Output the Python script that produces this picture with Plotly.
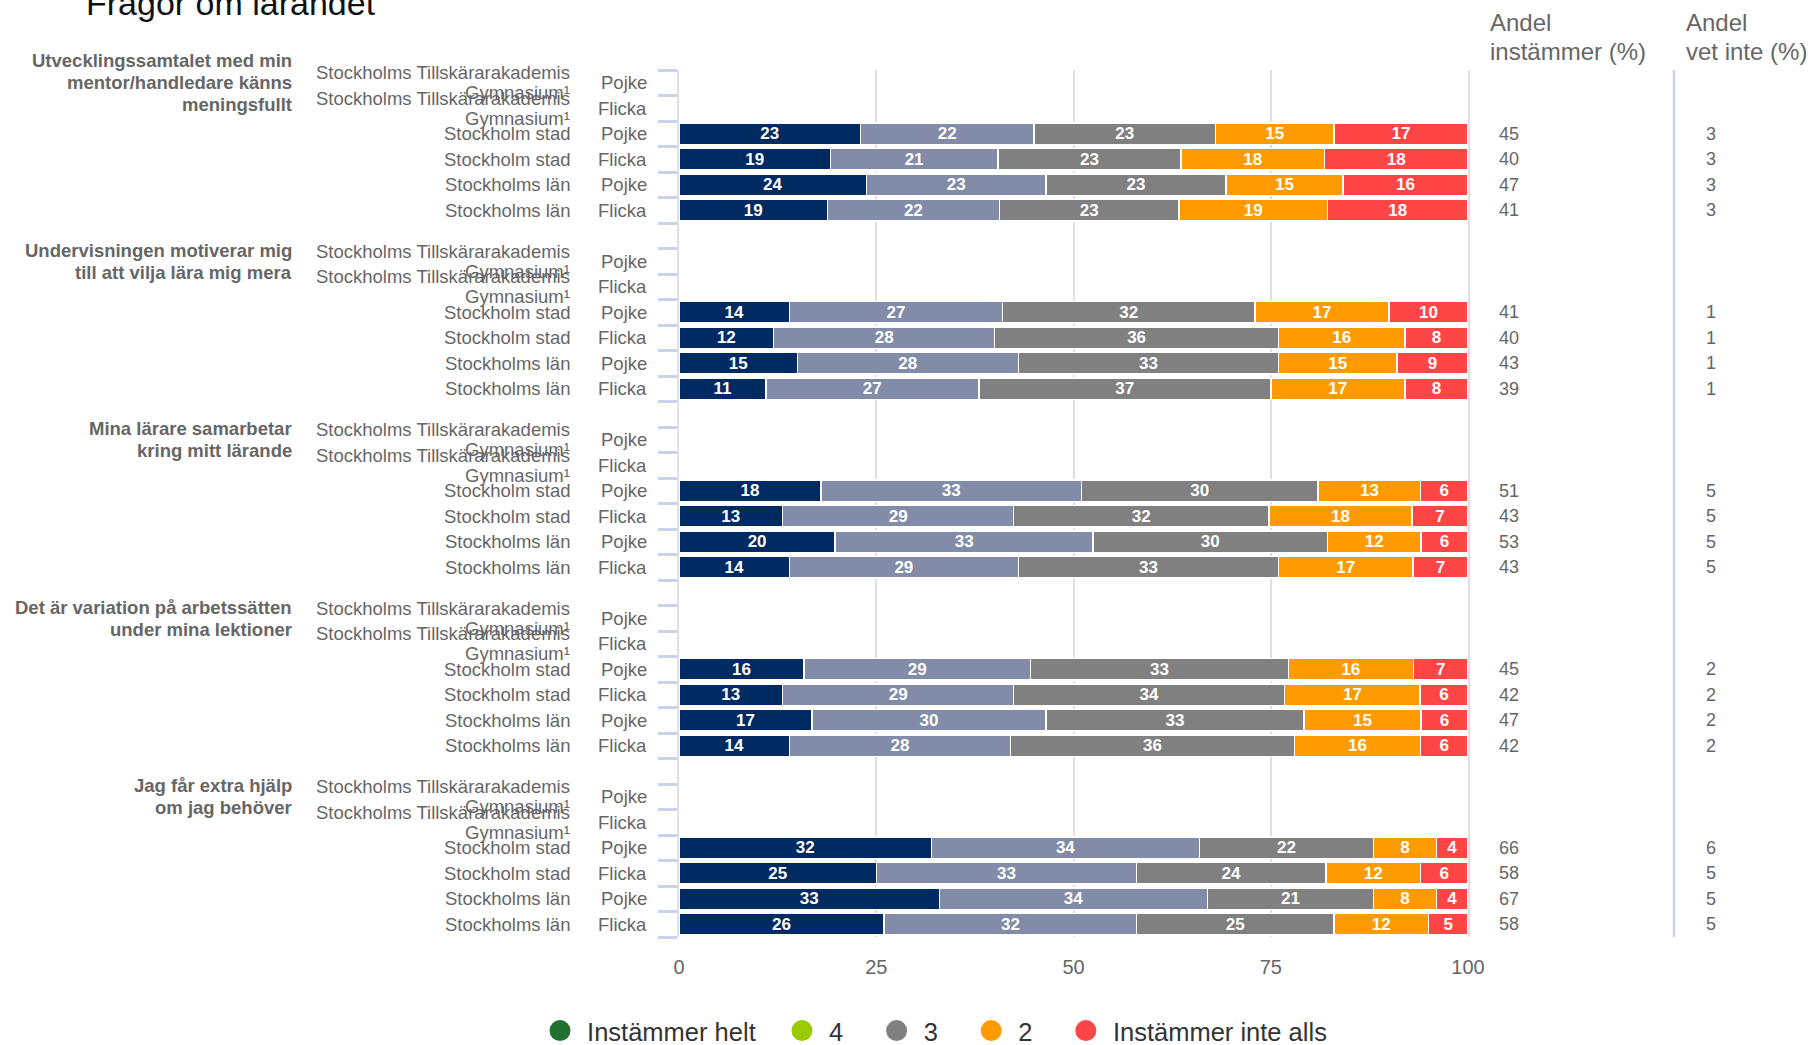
import plotly.graph_objects as go

# ---------------- data ----------------
title_text = "Frågor om lärandet"
questions = [
    "Utvecklingssamtalet med min<br>mentor/handledare känns<br>meningsfullt",
    "Undervisningen motiverar mig<br>till att vilja lära mig mera",
    "Mina lärare samarbetar<br>kring mitt lärande",
    "Det är variation på arbetssätten<br>under mina lektioner",
    "Jag får extra hjälp<br>om jag behöver",
]
schools = ["Stockholms Tillskärarakademis Gymnasium¹", "Stockholms Tillskärarakademis Gymnasium¹",
           "Stockholm stad", "Stockholm stad", "Stockholms län", "Stockholms län"]
genders = ["Pojke", "Flicka", "Pojke", "Flicka", "Pojke", "Flicka"]

categories = ["Instämmer helt", "4", "3", "2", "Instämmer inte alls"]
bar_colors = ["#002b62", "#828ca8", "#808080", "#ff9b00", "#ff4545"]
legend_colors = ["#237030", "#99cc00", "#808080", "#ff9b00", "#ff4545"]

instammer_helt = [
    [None, None, 23, 19, 24, 19],
    [None, None, 14, 12, 15, 11],
    [None, None, 18, 13, 20, 14],
    [None, None, 16, 13, 17, 14],
    [None, None, 32, 25, 33, 26],
]
svar_4 = [
    [None, None, 22, 21, 23, 22],
    [None, None, 27, 28, 28, 27],
    [None, None, 33, 29, 33, 29],
    [None, None, 29, 29, 30, 28],
    [None, None, 34, 33, 34, 32],
]
svar_3 = [
    [None, None, 23, 23, 23, 23],
    [None, None, 32, 36, 33, 37],
    [None, None, 30, 32, 30, 33],
    [None, None, 33, 34, 33, 36],
    [None, None, 22, 24, 21, 25],
]
svar_2 = [
    [None, None, 15, 18, 15, 19],
    [None, None, 17, 16, 15, 17],
    [None, None, 13, 18, 12, 17],
    [None, None, 16, 17, 15, 16],
    [None, None, 8, 12, 8, 12],
]
instammer_inte_alls = [
    [None, None, 17, 18, 16, 18],
    [None, None, 10, 8, 9, 8],
    [None, None, 6, 7, 6, 7],
    [None, None, 7, 6, 6, 6],
    [None, None, 4, 6, 4, 5],
]
andel_instammer = [
    [None, None, 45, 40, 47, 41],
    [None, None, 41, 40, 43, 39],
    [None, None, 51, 43, 53, 43],
    [None, None, 45, 42, 47, 42],
    [None, None, 66, 58, 67, 58],
]
andel_vet_inte = [
    [None, None, 3, 3, 3, 3],
    [None, None, 1, 1, 1, 1],
    [None, None, 5, 5, 5, 5],
    [None, None, 2, 2, 2, 2],
    [None, None, 6, 5, 5, 5],
]
header_instammer = ["Andel", "instämmer (%)"]
header_vet_inte = ["Andel", "vet inte (%)"]
x_ticks = [0, 25, 50, 75, 100]

# ---------------- layout helpers ----------------
W, H = 1808, 1045
L, R, T, B = 679, 1468, 70, 937
FONT = "Liberation Sans, Arial, sans-serif"
GRAY = "#666666"
NB = "\u00a0"


def px_x(px):
    return (px - L) / (R - L)


def px_y(py):
    return (B - py) / (B - T)


n_rows = len(genders)
group_step = n_rows + 1
ypos = [g * group_step + r for g in range(len(questions)) for r in range(n_rows)]
boundaries = [g * group_step - 0.5 + k for g in range(len(questions)) for k in range(n_rows + 1)]

fig = go.Figure()

series = [instammer_helt, svar_4, svar_3, svar_2, instammer_inte_alls]
for name, vals, color in zip(categories, series, bar_colors):
    flat = [v for grp in vals for v in grp]
    fig.add_trace(go.Bar(
        y=ypos, x=flat, orientation="h", name=name,
        marker=dict(color=color, line=dict(color="white", width=1.5)),
        text=flat, texttemplate="%{text}", textposition="inside",
        insidetextanchor="middle", textangle=0, constraintext="none",
        textfont=dict(color="white", size=17, family=FONT, weight="bold"),
        width=0.84, showlegend=False, hoverinfo="skip",
    ))

# legend entries (circle symbols), padded to match the reference spacing
legend_pad = [3, 4, 4, 4, 0]
for name, color, pad in zip(categories, legend_colors, legend_pad):
    fig.add_trace(go.Scatter(
        x=[None], y=[None], mode="markers", name=NB + name + NB * pad,
        marker=dict(symbol="circle", size=22, color=color, line=dict(color=color, width=5)),
        showlegend=True,
    ))

annotations = []
# title
annotations.append(dict(text=title_text, xref="paper", yref="paper", x=px_x(84), y=px_y(3),
                        xanchor="left", yanchor="middle", showarrow=False,
                        font=dict(size=34, color="#111111", family=FONT)))
# question labels (one annotation per line, 22 px line spacing)
for g, q in enumerate(questions):
    lines = q.split("<br>")
    n = len(lines)
    for i, line in enumerate(lines):
        annotations.append(dict(text=line, xref="paper", yref="y", x=px_x(294), y=g * group_step,
                                yshift=((n - 1) / 2 - i) * 22,
                                xanchor="right", yanchor="middle", showarrow=False,
                                font=dict(size=18.5, color=GRAY, family=FONT, weight="bold")))
# row labels + right side values
flat_vi = [v for grp in andel_instammer for v in grp]
flat_vv = [v for grp in andel_vet_inte for v in grp]
LBL = dict(size=18.5, color=GRAY, family=FONT)
for i, y in enumerate(ypos):
    r = i % n_rows
    school = schools[r]
    if len(school) > 30:
        first, second = school.rsplit(" ", 1)
        annotations.append(dict(text=first, xref="paper", yref="y", x=px_x(572), y=y, yshift=10,
                                xanchor="right", yanchor="middle", showarrow=False, font=LBL))
        annotations.append(dict(text=second, xref="paper", yref="y", x=px_x(572), y=y, yshift=-10,
                                xanchor="right", yanchor="middle", showarrow=False, font=LBL))
    else:
        annotations.append(dict(text=school, xref="paper", yref="y", x=px_x(572), y=y,
                                xanchor="right", yanchor="middle", showarrow=False, font=LBL))
    annotations.append(dict(text=genders[r], xref="paper", yref="y", x=px_x(649), y=y,
                            xanchor="right", yanchor="middle", showarrow=False, font=LBL))
    if flat_vi[i] is not None:
        annotations.append(dict(text=str(flat_vi[i]), xref="paper", yref="y", x=px_x(1497), y=y,
                                xanchor="left", yanchor="middle", showarrow=False,
                                font=dict(size=18, color=GRAY, family=FONT)))
    if flat_vv[i] is not None:
        annotations.append(dict(text=str(flat_vv[i]), xref="paper", yref="y", x=px_x(1704), y=y,
                                xanchor="left", yanchor="middle", showarrow=False,
                                font=dict(size=18, color=GRAY, family=FONT)))
# headers
for lines, xp in [(header_instammer, 1488), (header_vet_inte, 1684)]:
    for k, line in enumerate(lines):
        annotations.append(dict(text=line, xref="paper", yref="paper", x=px_x(xp), y=px_y(22 + 30 * k),
                                xanchor="left", yanchor="middle", showarrow=False,
                                font=dict(size=24, color=GRAY, family=FONT)))

shapes = [dict(type="line", xref="paper", yref="paper", x0=px_x(1674), x1=px_x(1674), y0=0, y1=1,
               line=dict(color="#c9d3e8", width=2.5))]

fig.update_layout(
    width=W, height=H,
    margin=dict(l=L, r=W - R, t=T, b=H - B, pad=0, autoexpand=False),
    paper_bgcolor="white", plot_bgcolor="white",
    barmode="stack", barnorm="percent",
    font=dict(family=FONT, color=GRAY),
    annotations=annotations, shapes=shapes,
    legend=dict(orientation="h", traceorder="normal", x=px_x(540), xanchor="left",
                y=px_y(1031), yanchor="middle",
                font=dict(size=25.5, color="#333333", family=FONT), bgcolor="rgba(0,0,0,0)"),
    xaxis=dict(range=[0, 100], tickvals=x_ticks, showgrid=True, gridcolor="#e0e0e0", gridwidth=2,
               zeroline=False, showline=False, ticks="", ticklabelstandoff=16,
               tickfont=dict(size=20, color=GRAY, family=FONT), fixedrange=True),
    yaxis=dict(range=[ypos[-1] + 0.5, -0.5], tickvals=boundaries, ticks="outside", ticklen=19,
               tickwidth=3, tickcolor="#c9d3e8", showticklabels=False, showgrid=False,
               zeroline=False, showline=True, mirror=True, linecolor="#e0e0e0", linewidth=2,
               fixedrange=True),
)

fig.write_html("out.html", config={"displayModeBar": False},
               post_script="document.body.style.margin='0';document.body.style.overflow='hidden';")
